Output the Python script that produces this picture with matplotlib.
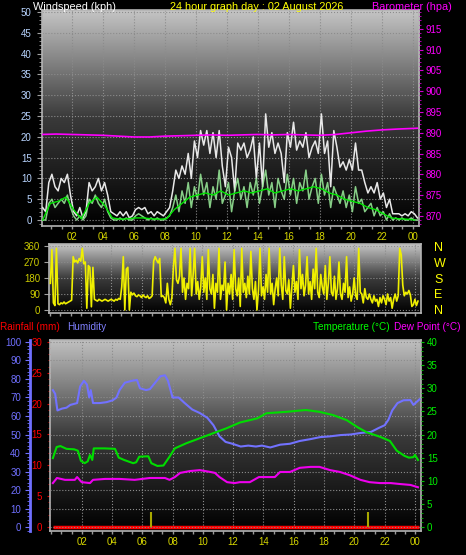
import numpy as np
import matplotlib
matplotlib.use('Agg')
import matplotlib.pyplot as plt
from matplotlib.ticker import MultipleLocator
from matplotlib.colors import LinearSegmentedColormap

plt.rcParams['font.family'] = ['Liberation Sans', 'DejaVu Sans']

# ---- wind (kph), sampled every 0.2 h ----
wind_hours = np.round(np.arange(0.1, 24.31, 0.2), 2)
gust = [3, 2, 9, 11, 8, 7, 10, 9, 11, 6,
        2, 1, 3, 0.5, 2, 9, 7, 8, 10, 7,
        9, 6, 2, 1.5, 1, 2, 1, 2, 0.5, 1,
        2.5, 3, 2.5, 3, 1.5, 2, 1, 2, 1.5, 1,
        2, 3, 7, 12, 10, 13, 11, 16, 10, 19,
        15, 21.5, 18, 21.5, 16, 21, 15, 21.5, 13, 8,
        17.5, 15, 7, 18.5, 16.8, 18.5, 15, 16.8, 20, 10,
        18.5, 8, 25.5, 17.5, 21, 16, 18.5, 16, 9, 21,
        17.5, 23.5, 16.8, 19, 17.5, 21, 15, 17.5, 19, 16,
        25.5, 16, 19, 8, 21.5, 17.5, 12.7, 14, 12, 14.5,
        12, 18.5, 12, 12, 9, 6.5, 8, 6.5, 9, 5,
        6.5, 3, 5, 1.5, 1.5, 1.5, 1, 1.5, 1, 2,
        1.5, 0.5]
speed = [0, 0, 4, 5, 3, 4, 5, 4, 6, 3,
         1, 0, 1, 0, 1, 5, 4, 6, 4, 3,
         5, 2, 0.5, 0, 0, 0.5, 0, 0.5, 0, 0,
         1, 1.5, 1, 0.5, 0, 0.5, 0, 0.5, 0, 0,
         0.5, 1, 3, 6, 2, 7, 4, 9, 3, 8,
         5, 11, 6, 9, 3, 8, 5, 12, 4, 6,
         9, 2, 7, 10, 5, 8, 3, 9, 6, 10,
         4, 8, 12, 6, 9, 3, 10, 7, 5, 11,
         6, 10, 4, 9, 7, 12, 5, 8, 10, 4,
         11, 6, 9, 3, 8, 6, 4, 7, 3, 6,
         2, 8, 4, 5, 2, 3, 4, 1, 3, 1,
         2, 0, 1.5, 0, 0.5, 0, 0.5, 0, 0, 0.5,
         0, 0]
avg_hours = np.round(np.arange(0.1, 24.11, 0.5), 2)
average = [0, 4, 4.5, 5.5, 2.5, 0.3, 4, 5.5, 3.5, 0.5,
           0.2, 0.3, 0.5, 0.5, 0.3, 0.2, 0.3, 2.5, 4, 5.5,
           6, 6.5, 6, 7, 6, 6.5, 7, 6.5, 7, 7.5,
           6.5, 7, 7.5, 7, 7.5, 8, 7.5, 6.5, 6, 5,
           4.5, 4, 3, 2.5, 1.5, 0.5, 0.3, 0.2, 0]

# ---- barometer (hpa) ----
baro_hours = [0, 1, 2, 3, 4, 5, 6, 7, 8, 9, 10, 11, 12, 13, 14, 15, 16, 17, 18, 19,
              20, 21, 22, 23, 24.3]
baro = [889.6, 889.7, 889.6, 889.5, 889.4, 889.2, 889.0, 889.0, 889.2, 889.3,
        889.4, 889.5, 889.4, 889.5, 889.6, 889.5, 889.6, 889.5, 889.4, 889.6,
        890.0, 890.4, 890.7, 890.9, 891.1]

# ---- wind direction (deg), every 0.1 h ----
dir_hours = np.round(np.arange(0.0, 24.21, 0.1), 2)
direction = [150, 340, 40, 25, 347, 35, 30, 40, 35, 45,
             35, 40, 45, 50, 55, 300, 270, 280, 265, 290,
             275, 347, 260, 270, 10, 250, 240, 18, 240, 60,
             55, 50, 60, 55, 50, 55, 60, 55, 50, 55,
             60, 55, 50, 60, 55, 65, 60, 130, 300, 0,
             230, 240, 0, 100, 85, 95, 80, 75, 85, 80,
             70, 85, 75, 70, 80, 65, 70, 80, 275, 300,
             280, 265, 290, 75, 80, 70, 40, 150, 60, 30,
             70, 240, 347, 170, 150, 190, 347, 100, 180, 60,
             150, 120, 347, 80, 200, 347, 90, 160, 60, 130,
             300, 100, 180, 60, 340, 120, 90, 200, 10, 150,
             100, 347, 60, 140, 110, 270, 0, 150, 90, 200,
             60, 340, 120, 80, 180, 20, 347, 100, 150, 70,
             190, 90, 330, 120, 60, 160, 0, 110, 347, 80,
             130, 60, 200, 100, 347, 90, 150, 30, 120, 180,
             80, 347, 140, 60, 300, 110, 90, 170, 10, 130,
             250, 100, 160, 60, 340, 120, 200, 80, 140, 300,
             90, 160, 60, 230, 120, 347, 100, 70, 200, 130,
             90, 250, 60, 150, 300, 100, 80, 190, 60, 120,
             270, 90, 60, 150, 100, 300, 70, 130, 50, 90,
             180, 80, 60, 347, 100, 90, 40, 120, 70, 60,
             90, 60, 40, 80, 50, 60, 20, 70, 40, 80,
             60, 30, 90, 50, 70, 10, 60, 90, 50, 80,
             347, 310, 140, 80, 100, 90, 110, 85, 20, 30,
             60, 25, 50]
compass = ['N', 'E', 'S', 'W', 'N']

# ---- humidity / temperature / dew point / rain ----
hum_hours = [0.1, 0.25, 0.4, 0.7, 1.0, 1.25, 1.7, 1.9, 2.15, 2.35, 2.5, 2.6, 2.75, 3.2,
             3.65, 4.05, 4.3, 4.5, 4.85, 5.3, 5.65, 5.85, 6.25, 6.5, 6.85, 7.2, 7.5, 7.7,
             8.0, 8.4, 8.8, 9.3, 9.8, 10.3, 10.7, 11.1, 11.5, 11.95, 12.5, 13.0, 13.5,
             13.9, 14.45, 15.1, 15.75, 16.4, 17.1, 17.75, 18.4, 19.1, 19.75, 20.4, 21.1,
             21.6, 22.0, 22.25, 22.5, 22.85, 23.25, 23.7, 23.9, 24.1, 24.3]
humidity = [74, 72, 63, 64, 64.5, 66, 67, 76, 79, 77, 70, 74, 67, 67,
            67.5, 68.5, 70, 74, 78, 79, 79.5, 75, 74, 74.5, 78, 81.5, 82, 79,
            70, 70, 67, 63.5, 61.6, 59, 55, 49, 46, 45, 43.5, 44, 43.5,
            44, 43, 44.5, 45, 46.5, 47.5, 48.6, 49, 49.7, 50, 50.8, 51.4,
            53.5, 55, 58, 63, 67, 68.5, 68.6, 66, 67.5, 69]
temp_hours = [0.1, 0.35, 0.6, 1.0, 1.5, 1.75, 1.95, 2.2, 2.4, 2.55, 2.7, 2.8, 3.5, 4.2,
              4.45, 4.8, 5.4, 5.6, 5.8, 6.4, 6.6, 7.0, 7.4, 7.8, 8.15, 8.9, 9.8, 10.7,
              11.6, 12.45, 13.6, 14.2, 15.5, 16.8, 17.7, 18.6, 19.5, 20.2, 20.8, 21.7,
              22.35, 22.8, 23.3, 23.6, 23.9, 24.0, 24.2]
temperature = [14.9, 17.3, 17.5, 16.9, 16.8, 16.5, 14.3, 13.8, 14.2, 15.6, 14.5, 17, 17, 16.9,
               15, 14.5, 13.8, 14, 15.2, 15.3, 13.8, 13.2, 13.3, 15.2, 17, 18.1, 19.2, 20.3,
               21.4, 22.6, 23.5, 24.6, 24.9, 25.3, 24.9, 24.2, 23.1, 21.6, 20.5, 19.5,
               18.6, 16.5, 15.4, 15, 15.1, 15.6, 14.5]
dew_hours = [0.1, 0.37, 0.9, 1.55, 1.7, 2.0, 2.55, 2.75, 3.55, 4.5, 5.5, 6.5, 7.5, 7.8,
             8.15, 8.5, 9.15, 9.8, 10.5, 10.8, 11.1, 11.6, 12.1, 12.45, 13.1, 13.7, 14.75,
             15.1, 15.75, 16.4, 17.1, 17.7, 18.4, 19.05, 19.7, 20.4, 21.0, 21.7, 22.4,
             23.0, 23.7, 24.2]
dew_point = [9.5, 10.6, 10.2, 10.2, 10.8, 9.7, 9.5, 10.2, 10.4, 10.4, 10.2, 10.6, 10.6, 10.2,
             10.8, 11.7, 12.1, 12.3, 11.9, 11.7, 10.8, 9.7, 9.5, 9.7, 9.7, 10.8, 10.8,
             11.9, 11.9, 12.8, 13, 13, 12.3, 11.9, 11.2, 10.2, 9.7, 9.5, 9.5,
             9.3, 9.1, 8.6]
rain_hours = [0.1, 24.3]
rainfall = [0, 0]
rain_mark_hours = [6.6, 20.9]
rain_mark_mm = [2.4, 2.4]

hour_ticks = list(range(2, 25, 2))
hour_labels = ['%02d' % (h % 24) for h in hour_ticks]

W, H = 466, 555
fig = plt.figure(figsize=(W / 100, H / 100), dpi=100, facecolor='black')


def box(l, t, r, b):
    return [l / W, 1 - b / H, (r - l) / W, (b - t) / H]


def shade(ax, top='#c6c6c6'):
    cmap = LinearSegmentedColormap.from_list('bg', ['#000000', '#3a3a3a', top])
    ax.imshow(np.linspace(1, 0, 256).reshape(-1, 1), cmap=cmap, aspect='auto',
              extent=[0, 1, 0, 1], transform=ax.transAxes, zorder=-2)


def frame(ax):
    ax.set_facecolor('black')
    ax.set_axisbelow(True)
    for s in ax.spines.values():
        s.set_color('#b4b4b4')
        s.set_linewidth(1.2)


def hour_axis(ax, labels=True):
    ax.set_xticks(hour_ticks)
    ax.set_xticklabels(hour_labels if labels else [])
    ax.xaxis.set_minor_locator(MultipleLocator(2 / 3))
    ax.tick_params(axis='x', which='both', colors='#9a9a9a', labelcolor='#d6d600',
                   length=2.2, width=1, labelsize=7, pad=2)
    ax.grid(axis='x', which='major', color='#8c8c8c', linestyle=':', linewidth=0.8)


def hide_spines(ax):
    for s in ax.spines.values():
        s.set_visible(False)


# ---------------- panel 1 : wind + barometer ----------------
ax1 = fig.add_axes(box(42, 10, 419, 226))
frame(ax1)
shade(ax1)
ax1.plot(wind_hours, gust, color='#e8e8e8', lw=1.1, zorder=3)
ax1.plot(wind_hours, speed, color='#9cf09c', lw=1.1, alpha=0.85, zorder=4)
ax1.plot(avg_hours, average, color='#00e600', lw=1.0, zorder=5)
ax1.set_xlim(0.06, 24.4)
ax1.set_ylim(-1.44, 50.48)
hour_axis(ax1)
ax1.yaxis.set_major_locator(MultipleLocator(5))
ax1.yaxis.set_minor_locator(MultipleLocator(1))
ax1.tick_params(axis='y', which='both', colors='#a0a0a0', labelcolor='#b8d4ff',
                labelsize=7, pad=4)
ax1.tick_params(axis='y', which='major', length=3.5)
ax1.tick_params(axis='y', which='minor', length=2)
ax1.grid(axis='y', color='#8c8c8c', linestyle=':', linewidth=0.8)

ax1b = ax1.twinx()
hide_spines(ax1b)
ax1b.plot(baro_hours, baro, color='#ff00ff', lw=1.2)
ax1b.set_ylim(-1.44 + 869.04, 50.48 + 869.04)
ax1b.yaxis.set_major_locator(MultipleLocator(5))
ax1b.yaxis.set_minor_locator(MultipleLocator(1))
ax1b.tick_params(axis='y', which='both', colors='#d000d0', labelcolor='#ff00ff',
                 labelsize=7, pad=1.5)
ax1b.tick_params(axis='y', which='major', length=3)
ax1b.tick_params(axis='y', which='minor', length=1.5)

fig.text(33 / W, 1 - 9.5 / H, 'Windspeed (kph)', color='white', fontsize=7.8, va='baseline')
fig.text(257 / W, 1 - 9.5 / H, '24 hour graph day : 02 August 2026', color='#ffff00',
         fontsize=7.8, va='baseline', ha='center')
fig.text(372 / W, 1 - 9.5 / H, 'Barometer (hpa)', color='#ff00ff', fontsize=7.8, va='baseline')

# ---------------- panel 2 : wind direction ----------------
ax2 = fig.add_axes(box(49, 244, 421, 313))
frame(ax2)
shade(ax2)
ax2.plot(dir_hours, direction, color='#f0f000', lw=1.2, zorder=3)
ax2.set_xlim(-0.09, 24.4)
ax2.set_ylim(-16.9, 371.3)
hour_axis(ax2, labels=False)
ax2.set_yticks([0, 90, 180, 270, 360])
ax2.tick_params(axis='y', colors='#a0a0a0', labelcolor='#cccc00', labelsize=7,
                length=3.5, pad=3)
ax2.grid(axis='y', color='#8c8c8c', linestyle=':', linewidth=0.8)

ax2b = ax2.twinx()
hide_spines(ax2b)
ax2b.set_ylim(-16.9, 371.3)
ax2b.set_yticks([0, 90, 180, 270, 360])
ax2b.set_yticklabels(compass)
ax2b.tick_params(axis='y', length=0, labelcolor='#ffff00', labelsize=9, pad=9.5)

# ---------------- panel 3 : rain / humidity / temperature ----------------
fig.text(0, 1 - 330 / H, 'Rainfall (mm)', color='#ff0000', fontsize=7.2, va='baseline')
fig.text(67 / W, 1 - 330 / H, 'Humidity', color='#8080ff', fontsize=7.2, va='baseline')
fig.text(313 / W, 1 - 330 / H, 'Temperature (°C)', color='#00ff00', fontsize=7.2, va='baseline')
fig.text(394 / W, 1 - 330 / H, 'Dew Point (°C)', color='#ff00ff', fontsize=7.2, va='baseline')

ax3 = fig.add_axes(box(50, 340, 421, 531))
frame(ax3)
shade(ax3, '#c0c0c0')
ax3.plot(rain_hours, rainfall, color='#ff0000', lw=2.5, zorder=3, solid_capstyle='butt')
ax3.vlines(rain_mark_hours, 0, rain_mark_mm, color='#a8a800', lw=1.5, zorder=4)
ax3.set_xlim(-0.09, 24.4)
ax3.set_ylim(-0.65, 30.32)
hour_axis(ax3)
ax3.yaxis.set_major_locator(MultipleLocator(5))
ax3.yaxis.set_minor_locator(MultipleLocator(1))
ax3.tick_params(axis='y', which='both', colors='#d00000', labelcolor='#ff0000',
                labelsize=7, pad=3.5)
ax3.tick_params(axis='y', which='major', length=2.2)
ax3.tick_params(axis='y', which='minor', length=1.5)

ax3h = ax3.twinx()
hide_spines(ax3h)
ax3h.yaxis.tick_left()
ax3h.spines['left'].set_visible(True)
ax3h.spines['left'].set_position(('axes', -20 / 371))
ax3h.spines['left'].set_color('#7070ff')
ax3h.spines['left'].set_linewidth(2)
ax3h.plot(hum_hours, humidity, color='#7272ff', lw=1.5, zorder=3)
ax3h.set_ylim(-2.16, 101.08)
ax3h.yaxis.set_major_locator(MultipleLocator(10))
ax3h.yaxis.set_minor_locator(MultipleLocator(2))
ax3h.tick_params(axis='y', which='both', colors='#7070ff', labelcolor='#7070ff',
                 labelsize=7, pad=3)
ax3h.tick_params(axis='y', which='major', length=3.5)
ax3h.tick_params(axis='y', which='minor', length=2)
ax3h.grid(axis='y', color='#8c8c8c', linestyle=':', linewidth=0.8)

ax3t = ax3.twinx()
hide_spines(ax3t)
ax3t.plot(temp_hours, temperature, color='#00dd00', lw=1.5, zorder=3)
ax3t.plot(dew_hours, dew_point, color='#ee00ee', lw=1.5, zorder=3)
ax3t.set_ylim(-0.86, 40.43)
ax3t.yaxis.set_major_locator(MultipleLocator(5))
ax3t.yaxis.set_minor_locator(MultipleLocator(1))
ax3t.tick_params(axis='y', which='both', colors='#00c000', labelcolor='#00ee00',
                 labelsize=7, pad=1.8)
ax3t.tick_params(axis='y', which='major', length=2.5)
ax3t.tick_params(axis='y', which='minor', length=1.5)

plt.savefig('out.png', dpi=100, facecolor='black')
